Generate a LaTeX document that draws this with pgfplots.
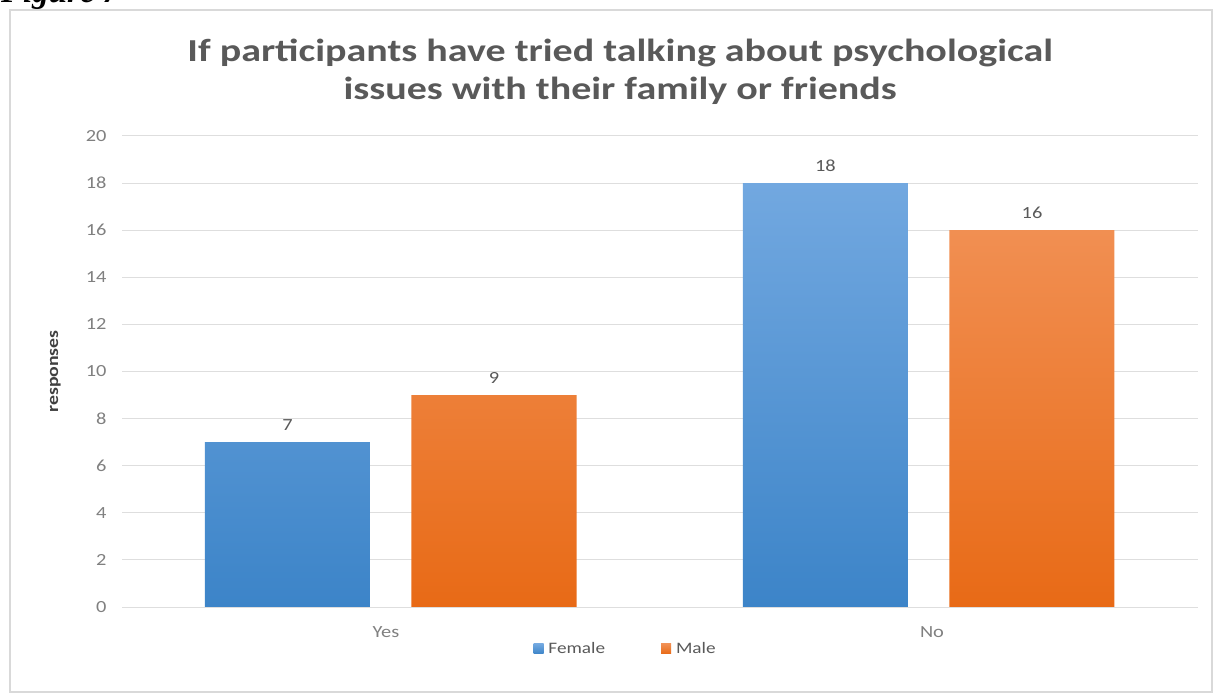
\documentclass[border=0pt]{standalone}
\usepackage{pgfplots}
\pgfplotsset{compat=1.18}
\usepackage{fontspec}
\setmainfont{Carlito}[FakeStretch=1.2]
\newfontfamily\titlefont{Carlito}[FakeStretch=1.25]
\newfontfamily\seriffont{Liberation Serif}
\definecolor{fblueT}{RGB}{114,168,224}
\definecolor{fblueB}{RGB}{60,132,200}
\definecolor{morT}{RGB}{241,143,82}
\definecolor{morB}{RGB}{232,106,22}
\definecolor{txtgray}{RGB}{89,89,89}
\definecolor{tickgray}{RGB}{128,128,128}
\begin{document}
\begin{tikzpicture}
\path[use as bounding box] (0,0) rectangle (1215bp,698bp);
\draw[color=black!15, line width=1.5bp] (10bp,6bp) rectangle (1212bp,688bp);
\node[anchor=base west, inner sep=0pt, font=\seriffont\bfseries\itshape\fontsize{33bp}{36bp}\selectfont] at (1bp,695bp) {Figure 7};
\begin{axis}[
  at={(122bp,91bp)}, anchor=south west,
  scale only axis, width=1076bp, height=471bp,
  xmin=-0.5, xmax=1.5, ymin=0, ymax=20,
  ytick={0,2,...,20},
  xtick={-0.0093,1.0056}, xticklabels={Yes,No},
  axis line style={draw=none},
  tick style={draw=none},
  ymajorgrids, grid style={color=black!13, line width=1bp},
  /pgf/number format/assume math mode=true,
  ticklabel style={font=\fontsize{17bp}{20bp}\selectfont, text=tickgray},
  yticklabel style={xshift=-12bp},
  xticklabel style={yshift=-12bp},
  ylabel={responses},
  ylabel style={font=\bfseries\fontsize{16.5bp}{19bp}\selectfont, text=black!75, at={(-0.062,0.5)}, anchor=center},
  title={If participants have tried talking about psychological\\issues with their family or friends},
  title style={font=\titlefont\bfseries\fontsize{32bp}{38bp}\selectfont, text=txtgray, align=center, at={(0.463,1.123)}, anchor=center},
  ybar,
  bar width=165bp,
  nodes near coords,
  every node near coord/.append style={font=\fontsize{17bp}{20bp}\selectfont, text=txtgray, yshift=8bp},
  legend style={at={(0.468,-0.089)}, anchor=center, draw=none, legend columns=2,
    font=\fontsize{16bp}{19bp}\selectfont, text=txtgray,
    /tikz/every even column/.append style={column sep=54bp}},
  legend image code/.code={\path[#1] (0bp,-5bp) rectangle (10bp,5bp); \path (0bp,0bp) -- (13bp,0bp);},
]
\addplot[draw=none, top color=fblueT, bottom color=fblueB, bar shift=-103.5bp] coordinates {(0,7) (1,18)};
\addplot[draw=none, top color=morT, bottom color=morB, bar shift=103bp] coordinates {(0,9) (1,16)};
\legend{Female,Male}
\end{axis}
\end{tikzpicture}
\end{document}
